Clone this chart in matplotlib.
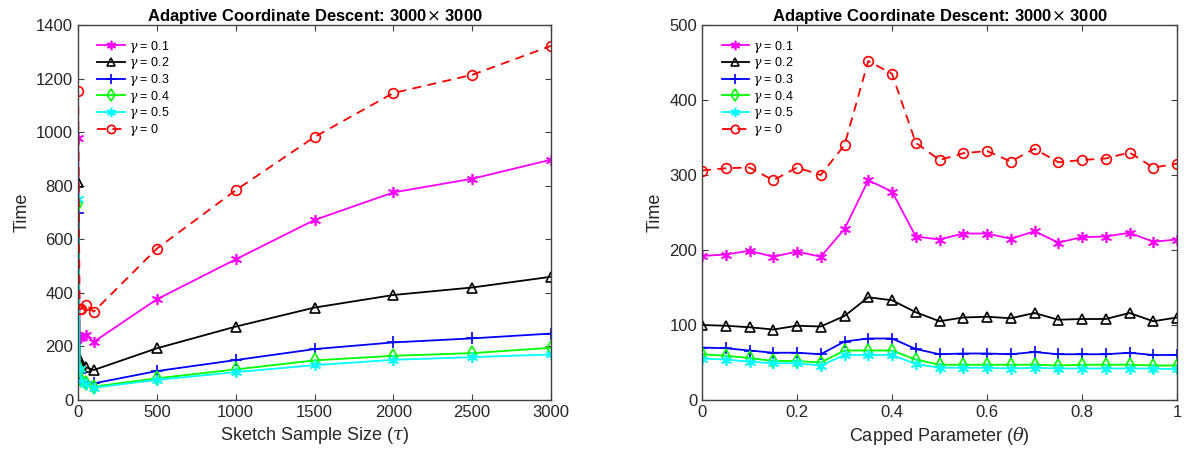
import matplotlib
matplotlib.use("Agg")
import matplotlib.pyplot as plt

plt.rcParams['font.family'] = ['Liberation Sans', 'DejaVu Sans']
plt.rcParams['mathtext.fontset'] = 'dejavuserif'

# Left panel data
tau = [1, 10, 20, 50, 100, 500, 1000, 1500, 2000, 2500, 3000]
left_g01 = [980, 232, 235, 242, 217, 376, 525, 672, 775, 826, 897]
left_g02 = [815, 148, 130, 122, 112, 193, 274, 345, 392, 420, 460]
left_g03 = [700, 100, 75, 68, 62, 108, 149, 190, 215, 230, 248]
left_g04 = [730, 112, 75, 62, 50, 81, 114, 148, 165, 175, 195]
left_g05 = [750, 115, 70, 58, 46, 75, 104, 130, 150, 160, 170]
left_g0 = [1155, 338, 340, 355, 330, 565, 783, 982, 1146, 1214, 1322]

# Right panel data
theta = [0, 0.05, 0.1, 0.15, 0.2, 0.25, 0.3, 0.35, 0.4, 0.45, 0.5,
         0.55, 0.6, 0.65, 0.7, 0.75, 0.8, 0.85, 0.9, 0.95, 1.0]
right_g01 = [192, 194, 199, 191, 198, 191, 228, 293, 278, 218, 214,
             222, 222, 215, 225, 210, 217, 218, 223, 211, 214]
right_g02 = [100, 99, 97, 94, 99, 98, 112, 137, 133, 117, 105,
             110, 111, 109, 116, 107, 108, 108, 116, 105, 110]
right_g03 = [70, 69, 66, 63, 63, 61, 78, 82, 82, 68, 61,
             62, 62, 61, 64, 61, 61, 61, 63, 60, 60]
right_g04 = [61, 59, 56, 52, 52, 50, 66, 66, 66, 54, 47,
             47, 47, 47, 47, 46, 47, 47, 47, 46, 46]
right_g05 = [55, 54, 51, 49, 49, 46, 60, 60, 60, 48, 43,
             43, 43, 42, 43, 42, 42, 42, 42, 42, 41]
right_g0 = [306, 309, 310, 293, 310, 300, 340, 452, 435, 343, 320,
            329, 332, 318, 335, 317, 320, 322, 330, 310, 315]

labels = [r'$\gamma$ = 0.1', r'$\gamma$ = 0.2', r'$\gamma$ = 0.3',
          r'$\gamma$ = 0.4', r'$\gamma$ = 0.5', r'$\gamma$ = 0']

asterisk = (6, 2, 0)
styles = [
    dict(color='#FF00FF', marker=asterisk, linestyle='-', markersize=8),
    dict(color='#000000', marker='^', linestyle='-', markersize=7, markerfacecolor='none'),
    dict(color='#0000FF', marker='+', linestyle='-', markersize=8),
    dict(color='#00FF00', marker='d', linestyle='-', markersize=7, markerfacecolor='none'),
    dict(color='#00FFFF', marker=asterisk, linestyle='-', markersize=8),
    dict(color='#FF0000', marker='o', linestyle=(0, (5, 3.5)), markersize=7, markerfacecolor='none'),
]

fig = plt.figure(figsize=(11.85, 4.58), dpi=100)
ax1 = fig.add_axes([78/1185, 58/458, 473/1185, 375/458])
ax2 = fig.add_axes([702/1185, 58/458, 475/1185, 375/458])

axcol = '#404040'
txtcol = '#262626'

def style_axes(ax):
    for s in ax.spines.values():
        s.set_color(axcol)
        s.set_linewidth(1.0)
    ax.tick_params(direction='in', top=True, right=True, colors=axcol,
                   labelcolor=txtcol, labelsize=12, length=4)

series_left = [left_g01, left_g02, left_g03, left_g04, left_g05, left_g0]
for ys, st, lb in zip(series_left, styles, labels):
    ax1.plot(tau, ys, label=lb, linewidth=1.3, markeredgewidth=1.2, **st)
ax1.set_xlim(0, 3000)
ax1.set_ylim(0, 1400)
ax1.set_xticks([0, 500, 1000, 1500, 2000, 2500, 3000])
ax1.set_yticks(range(0, 1401, 200))
ax1.set_xlabel(r'Sketch Sample Size ($\tau$)', fontsize=13, color=txtcol)
ax1.set_ylabel('Time', fontsize=13, color=txtcol)
ax1.set_title(r'Adaptive Coordinate Descent: 3000$\times$ 3000', fontsize=12,
              fontweight='bold', color='black', pad=3)
style_axes(ax1)

series_right = [right_g01, right_g02, right_g03, right_g04, right_g05, right_g0]
for ys, st, lb in zip(series_right, styles, labels):
    ax2.plot(theta, ys, label=lb, linewidth=1.3, markeredgewidth=1.2, **st)
ax2.set_xlim(0, 1)
ax2.set_ylim(0, 500)
ax2.set_xticks([0, 0.2, 0.4, 0.6, 0.8, 1])
ax2.set_xticklabels(['0', '0.2', '0.4', '0.6', '0.8', '1'])
ax2.set_yticks(range(0, 501, 100))
ax2.set_xlabel(r'Capped Parameter ($\theta$)', fontsize=13, color=txtcol)
ax2.set_ylabel('Time', fontsize=13, color=txtcol)
ax2.set_title(r'Adaptive Coordinate Descent: 3000$\times$ 3000', fontsize=12,
              fontweight='bold', color='black', pad=3)
style_axes(ax2)

for ax in (ax1, ax2):
    leg = ax.legend(loc='upper left', frameon=False, fontsize=9,
                    handlelength=2.2, handletextpad=0.3, labelspacing=0.05,
                    borderaxespad=0.4, bbox_to_anchor=(0.02, 0.99),
                    markerscale=0.85)

fig.savefig('out.png', dpi=100)
